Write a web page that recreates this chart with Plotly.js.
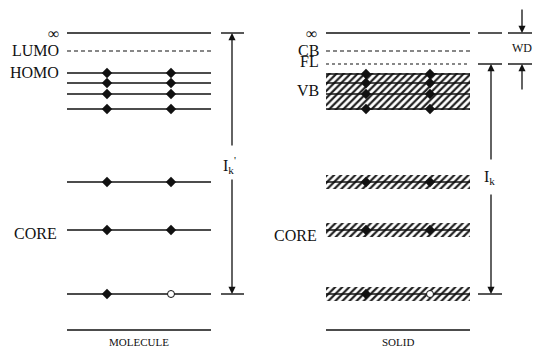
<!DOCTYPE html>
<html>
<head>
<meta charset="utf-8">
<script src="https://cdn.plot.ly/plotly-3.0.1.min.js"></script>
<style>html,body{margin:0;padding:0;background:#fff;}#chart{width:538px;height:347px;}</style>
</head>
<body>
<div id="chart"></div>
<script>
// ---- data (energy scale, downward = deeper) ----
const vacuumLevel = 33;
const lumoLevel = 51;
const molValenceLevels = [73, 83, 94, 109];
const coreLevels = [182, 230, 294];
const cbLevel = 51;
const fermiLevel = 64;
const solValenceLevels = [74, 83, 94, 109];
const vbBand = [73, 110];
const coreBandHalfWidth = 7;
const baseLine = 330;
const molLabels = ["∞", "LUMO", "HOMO", "CORE"];
const solLabels = ["∞", "CB", "FL", "VB", "CORE"];
const panelNames = ["MOLECULE", "SOLID"];
// electrons: two per level; last core level has one hole (open)
const electronSlots = [0, 1];
const holeLevel = 294;

// ---- geometry ----
const mol = {x0: 67, x1: 211, ex: [107, 171], arrowX: 232, labelX: 61};
const sol = {x0: 326, x1: 470, ex: [366, 430], arrowX: 491, labelX: 321};
const black = '#111';
const traces = [];

function hline(x0, x1, y, dash, w) {
  traces.push({x: [x0, x1], y: [y, y], mode: 'lines', hoverinfo: 'skip',
    line: {color: black, width: w || 1.4, dash: dash || 'solid'}, showlegend: false});
}
function band(x0, x1, y0, y1) {
  traces.push({x: [x0, x1, x1, x0, x0], y: [y0, y0, y1, y1, y0], mode: 'lines',
    fill: 'toself', fillcolor: 'white', line: {width: 0, color: 'rgba(0,0,0,0)'},
    fillpattern: {shape: '/', fgcolor: '#222', bgcolor: 'white', size: 5, solidity: 0.45},
    hoverinfo: 'skip', showlegend: false});
}
function electrons(p, levels) {
  const fx = [], fy = [], ox = [], oy = [];
  levels.forEach(l => {
    electronSlots.forEach(s => {
      if (l === holeLevel && s === 1) { ox.push(p.ex[s]); oy.push(l); }
      else { fx.push(p.ex[s]); fy.push(l); }
    });
  });
  traces.push({x: fx, y: fy, mode: 'markers', hoverinfo: 'skip', showlegend: false,
    marker: {symbol: 'diamond', size: 8, color: black, line: {width: 0}}});
  traces.push({x: ox, y: oy, mode: 'markers', hoverinfo: 'skip', showlegend: false,
    marker: {symbol: 'circle', size: 7, color: 'white', line: {width: 1, color: black}}});
}

// bands (solid)
band(sol.x0, sol.x1, vbBand[0], vbBand[1]);
coreLevels.forEach(l => band(sol.x0, sol.x1, l - coreBandHalfWidth, l + coreBandHalfWidth));

// molecule levels
hline(mol.x0, mol.x1, vacuumLevel);
hline(mol.x0, mol.x1, lumoLevel, '4px,3px', 1.2);
molValenceLevels.concat(coreLevels).forEach(l => hline(mol.x0, mol.x1, l));
hline(mol.x0, mol.x1, baseLine);
// solid levels
hline(sol.x0, sol.x1, vacuumLevel);
hline(sol.x0, sol.x1, cbLevel, '4px,3px', 1.2);
hline(sol.x0, sol.x1, fermiLevel, 'dot', 1.2);
solValenceLevels.concat(coreLevels).forEach(l => hline(sol.x0, sol.x1, l));
hline(sol.x0, sol.x1, baseLine);

electrons(mol, molValenceLevels.concat(coreLevels));
electrons(sol, solValenceLevels.concat(coreLevels));

// caps for arrows
hline(mol.arrowX - 11, mol.arrowX + 12, vacuumLevel, 'solid', 1.4);
hline(mol.arrowX - 11, mol.arrowX + 12, holeLevel, 'solid', 1.4);
hline(478, 502, vacuumLevel);
hline(508, 532, vacuumLevel);
hline(478, 502, fermiLevel);
hline(508, 532, fermiLevel);
hline(478, 502, holeLevel);

const annotations = [];
function arrow(x, yHead, yTail) {
  annotations.push({x: x, y: yHead, ax: x, ay: yTail, xref: 'x', yref: 'y', axref: 'x', ayref: 'y',
    text: '', font: {size: 10}, showarrow: true, arrowhead: 2, arrowsize: 1.1, arrowwidth: 1.3, arrowcolor: black});
}
arrow(mol.arrowX, vacuumLevel, 147);
arrow(mol.arrowX, holeLevel, 178);
arrow(sol.arrowX, fermiLevel, 161);
arrow(sol.arrowX, holeLevel, 193);
arrow(522, vacuumLevel, 8);
arrow(522, fermiLevel, 91);

const fnt = {family: 'Liberation Serif, Times New Roman, serif', size: 16, color: '#111'};
function label(x, y, t, anchor, size) {
  annotations.push({x: x, y: y, xref: 'x', yref: 'y', text: t, showarrow: false,
    xanchor: anchor || 'right', yanchor: 'middle', font: Object.assign({}, fnt, size ? {size: size} : {})});
}
label(mol.labelX, vacuumLevel, molLabels[0]);
label(mol.labelX, lumoLevel - 1, molLabels[1]);
label(mol.labelX, molValenceLevels[0] - 1, molLabels[2]);
label(mol.labelX - 2, coreLevels[1] + 3, molLabels[3]);
label(sol.labelX - 2, vacuumLevel, solLabels[0]);
label(sol.labelX, cbLevel - 1, solLabels[1]);
label(sol.labelX, fermiLevel - 3, solLabels[2]);
label(sol.labelX, 90, solLabels[3]);
label(sol.labelX - 2, coreLevels[1] + 5, solLabels[4]);
label((mol.x0 + mol.x1) / 2, baseLine + 12, panelNames[0], 'center', 11);
label((sol.x0 + sol.x1) / 2, baseLine + 12, panelNames[1], 'center', 11);
label(mol.arrowX - 3, 165, "I<sub>k</sub><sup>'</sup>", 'center', 16);
label(sol.arrowX - 2, 177, "I<sub>k</sub>", 'center', 16);
label(522, 48, "WD", 'center', 12);

const layout = {
  width: 538, height: 347, margin: {l: 0, r: 0, t: 0, b: 0},
  paper_bgcolor: 'white', plot_bgcolor: 'white', showlegend: false,
  xaxis: {range: [0, 538], visible: false, fixedrange: true},
  yaxis: {range: [347, 0], visible: false, fixedrange: true},
  annotations: annotations
};
Plotly.newPlot('chart', traces, layout, {staticPlot: true});
</script>
</body>
</html>
